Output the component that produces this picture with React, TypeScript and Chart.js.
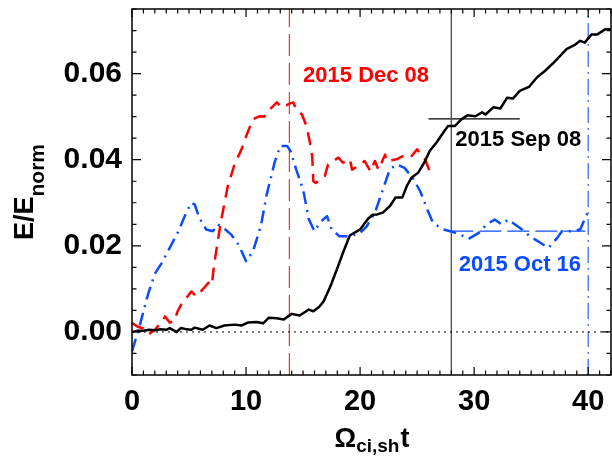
import { useEffect, useRef } from "react";
import { Chart, registerables } from "chart.js";

Chart.register(...registerables);

// ---- Data ----
const sepT = [0, 0.5, 1, 1.5, 2, 2.5, 3, 3.3, 3.9, 4.3, 4.8, 5.2, 5.5, 6.2, 6.8, 7.4, 8.1, 9.0, 9.6, 10.2, 10.9, 11.5, 12.0, 12.7, 13.3, 14.0, 14.7, 15.5, 15.9, 16.4, 16.8, 17.4, 17.96, 18.5, 19.1, 19.6, 20.0, 20.7, 21.1, 21.5, 22.0, 22.6, 23.1, 23.7, 24.1, 24.5, 25.1, 25.7, 26.1, 26.7, 27.3, 27.7, 28.3, 28.9, 29.4, 30.1, 30.7, 31.0, 31.7, 32.3, 32.9, 33.4, 34.0, 34.8, 35.5, 36.2, 37.0, 37.4, 38.1, 38.9, 39.3, 39.7, 40.3, 40.8, 41.5, 42.0];
const sepE = [0.0, 0.0003, 0.0003, 0.0005, 0.0004, 0.0006, 0.0005, 0.0009, 0.0, 0.0009, 0.0006, 0.0005, 0.001, 0.0005, 0.0015, 0.0009, 0.0015, 0.0017, 0.0015, 0.0022, 0.0023, 0.002, 0.0033, 0.0032, 0.0029, 0.0042, 0.0038, 0.0052, 0.0048, 0.0058, 0.0071, 0.0106, 0.0145, 0.0184, 0.0224, 0.0232, 0.0238, 0.0263, 0.0272, 0.0273, 0.0277, 0.0292, 0.0312, 0.0312, 0.0339, 0.0358, 0.037, 0.0397, 0.042, 0.044, 0.0463, 0.0478, 0.0478, 0.0494, 0.0503, 0.0501, 0.051, 0.0505, 0.0522, 0.0519, 0.0544, 0.0542, 0.056, 0.0569, 0.0591, 0.0606, 0.0626, 0.0637, 0.0657, 0.0668, 0.0676, 0.0672, 0.0691, 0.0691, 0.0703, 0.0703];

const octT = [0.0, 0.7, 1.4, 2.0, 2.6, 3.0, 3.5, 4.0, 4.8, 5.2, 5.5, 5.9, 6.5, 7.1, 7.5, 8.0, 8.7, 9.4, 10.0, 10.6, 11.3, 11.8, 12.5, 13.0, 13.6, 13.9, 14.4, 15.0, 15.5, 16.0, 16.5, 17.1, 17.5, 18.2, 19.1, 20.0, 20.6, 21.3, 21.9, 22.6, 23.2, 23.9, 24.7, 25.3, 25.9, 26.4, 27.3, 27.9, 28.8, 29.5, 30.4, 31.1, 31.8, 32.4, 33.0, 33.4, 34.2, 34.9, 35.8, 36.5, 37.3, 37.7, 38.7, 39.3, 40.0];
const octE = [-0.0045, 0.0017, 0.0087, 0.0135, 0.016, 0.018, 0.0205, 0.023, 0.028, 0.03, 0.0296, 0.0265, 0.0238, 0.0234, 0.025, 0.0242, 0.0226, 0.02, 0.0164, 0.0187, 0.0246, 0.0318, 0.0393, 0.0432, 0.0432, 0.042, 0.0377, 0.0331, 0.0262, 0.0234, 0.0255, 0.0269, 0.0238, 0.0222, 0.0222, 0.023, 0.0246, 0.0277, 0.0323, 0.0377, 0.0389, 0.0381, 0.0354, 0.0325, 0.0284, 0.0253, 0.0238, 0.0234, 0.0226, 0.0216, 0.023, 0.025, 0.0261, 0.025, 0.0261, 0.0253, 0.0238, 0.0222, 0.0207, 0.0195, 0.0219, 0.0234, 0.0234, 0.0238, 0.028];

const decT = [0.0, 0.5, 1.0, 1.5, 2.0, 2.5, 2.9, 3.3, 3.7, 4.0, 4.3, 4.8, 5.2, 5.6, 5.9, 6.4, 6.7, 7.0, 7.2, 7.8, 8.4, 9.0, 9.6, 9.9, 10.6, 11.2, 11.6, 12.1, 12.7, 13.0, 13.3, 13.7, 14.15, 14.4, 14.9, 15.3, 15.6, 15.8, 15.9, 16.1, 16.9, 17.2, 18.1, 18.5, 19.1, 19.3, 20.0, 20.4, 20.9, 21.3, 21.6, 22.2, 22.3, 23.2, 23.7, 24.4, 25.0, 25.7, 26.1];
const decE = [0.0021, 0.0012, 0.0008, -0.0005, 0.0005, 0.002, 0.0036, 0.0022, 0.0025, 0.0048, 0.0063, 0.008, 0.0094, 0.0083, 0.009, 0.0105, 0.0114, 0.0108, 0.0157, 0.0257, 0.0339, 0.039, 0.0424, 0.0447, 0.0494, 0.0501, 0.05, 0.0517, 0.0533, 0.0525, 0.0521, 0.0529, 0.0533, 0.0517, 0.0505, 0.0478, 0.044, 0.0408, 0.035, 0.0346, 0.0362, 0.0389, 0.0405, 0.0393, 0.0401, 0.0377, 0.0388, 0.0397, 0.0373, 0.0397, 0.0377, 0.0412, 0.0397, 0.0401, 0.0408, 0.0405, 0.0424, 0.0401, 0.0373];

const xRange = [0, 42];
const yRange = [-0.01, 0.075];
const xTickValues = [0, 10, 20, 30, 40];
const yTickValues = [0, 0.02, 0.04, 0.06];

const decMarkerT = 13.8;
const sepMarkerT = 28.0;
const octMarkerT = 40.0;
const sepLevel = 0.0495;
const sepLevelSpan = [26, 34];
const octLevel = 0.0234;
const octLevelSpan = [28, 40];

const eventNames = ["2015 Dec 08", "2015 Sep 08", "2015 Oct 16"];
const eventLabelT = [15.0, 28.35, 28.65];
const eventLabelE = [0.058, 0.0432, 0.0141];

const RED = "#ff0000";
const BLUE = "#0a4bff";
const BLACK = "#000000";
const eventColors = [RED, BLACK, BLUE];

const FONT = "'Liberation Sans', Arial, Helvetica, sans-serif";

const zip = (t: number[], e: number[]) => t.map((v, i) => ({ x: v, y: e[i] }));

const framePlugin = {
  id: "idlFrame",
  afterDatasetsDraw(chart: any) {
    const { ctx, chartArea: a, scales } = chart;
    const xs = scales.x;
    const ys = scales.y;
    ctx.save();
    ctx.strokeStyle = "#000";
    ctx.lineWidth = 1.5;
    ctx.strokeRect(a.left, a.top, a.right - a.left, a.bottom - a.top);
    ctx.lineWidth = 1.2;
    ctx.beginPath();
    for (let i = xRange[0]; i <= xRange[1]; i++) {
      const px = xs.getPixelForValue(i);
      const len = i % 10 === 0 ? 8 : 4.5;
      ctx.moveTo(px, a.bottom);
      ctx.lineTo(px, a.bottom - len);
      ctx.moveTo(px, a.top);
      ctx.lineTo(px, a.top + len);
    }
    for (let k = -2; k <= 15; k++) {
      const v = k * 0.005;
      const py = ys.getPixelForValue(v);
      const len = k % 4 === 0 ? 9 : 4.5;
      ctx.moveTo(a.left, py);
      ctx.lineTo(a.left + len, py);
      ctx.moveTo(a.right, py);
      ctx.lineTo(a.right - len, py);
    }
    ctx.stroke();

    // event labels
    ctx.font = `bold 22px ${FONT}`;
    ctx.textBaseline = "alphabetic";
    ctx.textAlign = "left";
    eventNames.forEach((name, i) => {
      ctx.fillStyle = eventColors[i];
      ctx.fillText(name, xs.getPixelForValue(eventLabelT[i]), ys.getPixelForValue(eventLabelE[i]));
    });

    // y title: E/E_norm
    ctx.fillStyle = "#000";
    const cy = (a.top + a.bottom) / 2;
    ctx.translate(33, cy);
    ctx.rotate(-Math.PI / 2);
    ctx.font = `bold 27px ${FONT}`;
    const w1 = ctx.measureText("E/E").width;
    ctx.font = `bold 21px ${FONT}`;
    const w2 = ctx.measureText("norm").width;
    const start = -(w1 + w2) / 2;
    ctx.font = `bold 27px ${FONT}`;
    ctx.fillText("E/E", start, 0);
    ctx.font = `bold 21px ${FONT}`;
    ctx.fillText("norm", start + w1, 11);
    ctx.restore();

    // x title: Omega_{ci,sh} t
    ctx.save();
    ctx.fillStyle = "#000";
    ctx.textBaseline = "alphabetic";
    ctx.textAlign = "left";
    const cx = (a.left + a.right) / 2;
    ctx.font = `bold 27px ${FONT}`;
    const o1 = ctx.measureText("\u03A9").width;
    const o3 = ctx.measureText("t").width;
    ctx.font = `bold 19px ${FONT}`;
    const o2 = ctx.measureText("ci,sh").width;
    const x0 = cx - (o1 + o2 + o3) / 2;
    const base = 447;
    ctx.font = `bold 27px ${FONT}`;
    ctx.fillText("\u03A9", x0, base);
    ctx.font = `bold 19px ${FONT}`;
    ctx.fillText("ci,sh", x0 + o1, base + 5);
    ctx.font = `bold 27px ${FONT}`;
    ctx.fillText("t", x0 + o1 + o2 + 1, base);
    ctx.restore();
  },
};

export default function App() {
  const ref = useRef<HTMLCanvasElement | null>(null);
  useEffect(() => {
    if (!ref.current) return;
    const lineBase = { pointRadius: 0, tension: 0, fill: false, borderJoinStyle: "round" as const };
    const chart = new Chart(ref.current, {
      type: "line",
      data: {
        datasets: [
          { ...lineBase, label: "Sep", data: zip(sepT, sepE), borderColor: BLACK, borderWidth: 2.5 },
          { ...lineBase, label: "Oct", data: zip(octT, octE), borderColor: BLUE, borderWidth: 2.5, borderDash: [13, 6, 2, 6] },
          { ...lineBase, label: "Dec", data: zip(decT, decE), borderColor: RED, borderWidth: 2.5, borderDash: [13, 8] },
          { ...lineBase, label: "zero", data: [{ x: xRange[0], y: 0 }, { x: xRange[1], y: 0 }], borderColor: BLACK, borderWidth: 1, borderDash: [2, 4] },
          { ...lineBase, label: "decMark", data: [{ x: decMarkerT, y: yRange[0] }, { x: decMarkerT, y: yRange[1] }], borderColor: "#ff3030", borderWidth: 1.2, borderDash: [22, 7] },
          { ...lineBase, label: "sepMark", data: [{ x: sepMarkerT, y: yRange[0] }, { x: sepMarkerT, y: yRange[1] }], borderColor: "#555555", borderWidth: 1.4 },
          { ...lineBase, label: "octMark", data: [{ x: octMarkerT, y: yRange[0] }, { x: octMarkerT, y: yRange[1] }], borderColor: "#3a6bff", borderWidth: 1.3, borderDash: [16, 5, 2, 5] },
          { ...lineBase, label: "sepLevel", data: [{ x: sepLevelSpan[0], y: sepLevel }, { x: sepLevelSpan[1], y: sepLevel }], borderColor: BLACK, borderWidth: 1.2 },
          { ...lineBase, label: "octLevel", data: [{ x: octLevelSpan[0], y: octLevel }, { x: octLevelSpan[1], y: octLevel }], borderColor: BLUE, borderWidth: 1.3, borderDash: [22, 6] },
        ],
      },
      options: {
        responsive: false,
        animation: false,
        parsing: true,
        layout: { padding: { top: 9, right: 1, left: 0, bottom: 0 }, autoPadding: false },
        plugins: { legend: { display: false }, tooltip: { enabled: false }, title: { display: false } },
        scales: {
          x: {
            type: "linear",
            min: xRange[0],
            max: xRange[1],
            grid: { display: false, drawTicks: false },
            border: { display: false },
            afterBuildTicks: (s: any) => { s.ticks = xTickValues.map((v) => ({ value: v })); },
            afterFit: (s: any) => { s.height = 83; s.paddingLeft = 0; s.paddingRight = 0; s.paddingTop = 0; s.paddingBottom = 0; },
            ticks: {
              padding: 10,
              color: "#000",
              maxRotation: 0,
              font: { family: FONT, size: 29, weight: "bold" },
              callback: (v: any) => String(v),
            },
          },
          y: {
            type: "linear",
            min: yRange[0],
            max: yRange[1],
            grid: { display: false, drawTicks: false },
            border: { display: false },
            afterBuildTicks: (s: any) => { s.ticks = yTickValues.map((v) => ({ value: v })); },
            afterFit: (s: any) => { s.width = 132; s.paddingLeft = 0; s.paddingRight = 0; s.paddingTop = 0; s.paddingBottom = 0; },
            ticks: {
              padding: 10,
              color: "#000",
              font: { family: FONT, size: 30, weight: "bold" },
              callback: (v: any) => Number(v).toFixed(2),
            },
          },
        },
      },
      plugins: [framePlugin],
    });
    return () => chart.destroy();
  }, []);
  return (
    <div style={{ position: "fixed", left: 0, top: 0, width: 612, height: 458, background: "#fff" }}>
      <canvas ref={ref} width={612} height={458} />
    </div>
  );
}
